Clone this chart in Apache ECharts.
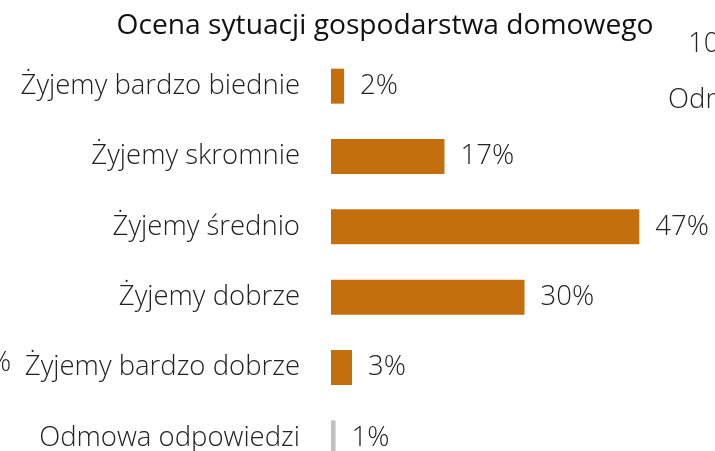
<!DOCTYPE html>
<html>
<head>
<meta charset="utf-8">
<script src="https://cdn.jsdelivr.net/npm/echarts@6/dist/echarts.min.js"></script>
<style>
  html, body { margin: 0; padding: 0; background: #fff; }
  #chart { width: 715px; height: 451px; }
</style>
</head>
<body>
<div id="chart"></div>
<script>
// categories, top to bottom
const categories = [
  'Żyjemy bardzo biednie',
  'Żyjemy skromnie',
  'Żyjemy średnio',
  'Żyjemy dobrze',
  'Żyjemy bardzo dobrze',
  'Odmowa odpowiedzi'
];
// shares in %
const shares = [2.0, 17.3, 47.0, 29.5, 3.2, 0.7];
const shareLabels = ['2%', '17%', '47%', '30%', '3%', '1%'];
const barColors = ['#c46f0e', '#c46f0e', '#c46f0e', '#c46f0e', '#c46f0e', '#c0c0c0'];

const chart = echarts.init(document.getElementById('chart'));
const font = '"Open Sans", sans-serif';

let options = {
  animation: false,
  title: {
    text: 'Ocena sytuacji gospodarstwa domowego',
    left: 380,
    textAlign: 'center',
    top: 7,
    textStyle: { fontFamily: font, fontSize: 28.2, fontWeight: 'normal', color: '#111' }
  },
  grid: { left: 331, top: 51, width: 328, height: 422, outerBoundsMode: 'none', containLabel: false },
  xAxis: {
    type: 'value',
    min: 0,
    max: 50,
    show: false
  },
  yAxis: {
    type: 'category',
    data: categories,
    inverse: true,
    axisLine: { show: false },
    axisTick: { show: false },
    axisLabel: {
      margin: 31,
      fontFamily: font,
      fontSize: 27.5,
      fontWeight: 300,
      color: '#222'
    }
  },
  series: [
    {
      type: 'bar',
      barWidth: 35,
      data: shares.map((v, i) => ({ value: v, itemStyle: { color: barColors[i] } })),
      label: {
        show: true,
        position: 'right',
        distance: 16,
        fontFamily: font,
        fontSize: 27.5,
        fontWeight: 300,
        color: '#222',
        formatter: (p) => shareLabels[p.dataIndex]
      }
    }
  ],
  // fragments of neighbouring charts cut by the frame
  graphic: [
    { type: 'text', left: 688, top: 30, style: { text: '10', font: '300 27.5px "Open Sans"', fill: '#222' } },
    { type: 'text', left: 668, top: 86, style: { text: 'Odmowa', font: '300 27.5px "Open Sans"', fill: '#222' } },
    { type: 'text', left: -11, top: 349, style: { text: '%', font: '300 27.5px "Open Sans"', fill: '#222' } }
  ]
};
chart.setOption(options);
</script>
</body>
</html>
